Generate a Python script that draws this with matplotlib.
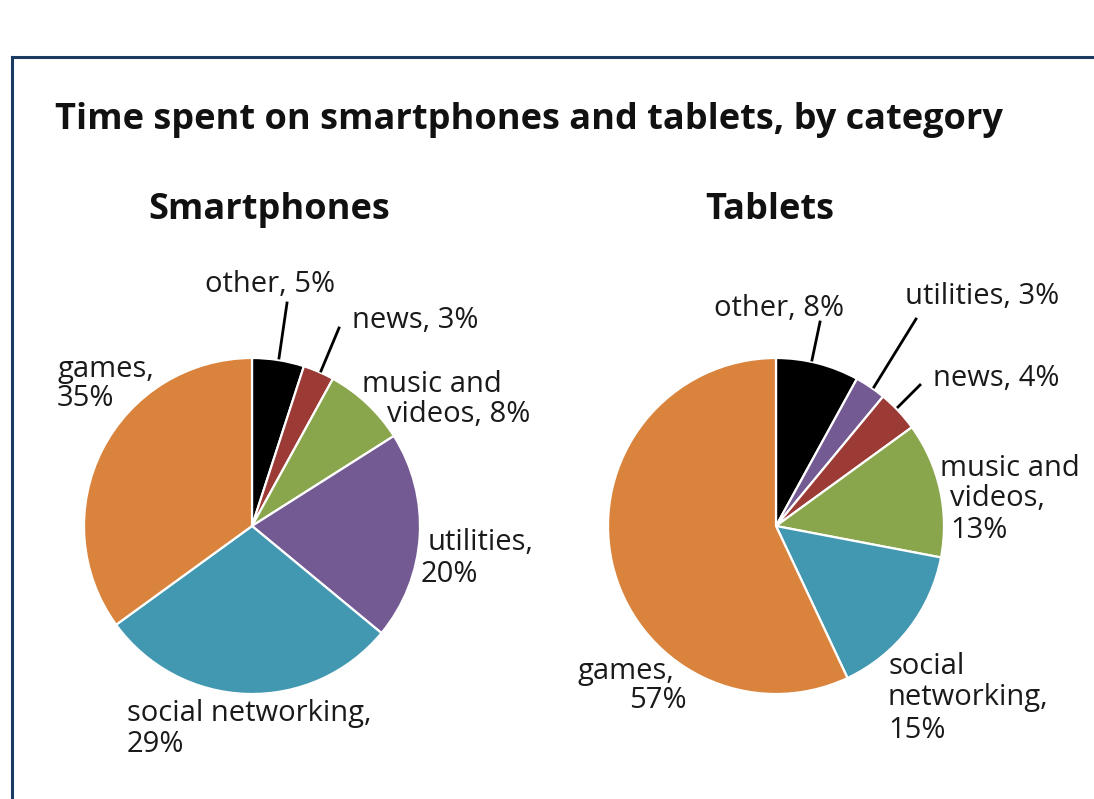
import matplotlib
matplotlib.use("Agg")
import matplotlib.pyplot as plt
from matplotlib.lines import Line2D

W, H = 1094, 799
FONT = "Open Sans"

title = "Time spent on smartphones and tablets, by category"

phone_title = "Smartphones"
phone_cats = ["other", "news", "music and videos", "utilities", "social networking", "games"]
phone_vals = [5, 3, 8, 20, 29, 35]
phone_colors = ["#000000", "#9C3A35", "#8AA64C", "#735A93", "#4398B1", "#D9833C"]

tab_title = "Tablets"
tab_cats = ["other", "utilities", "news", "music and videos", "social networking", "games"]
tab_vals = [8, 3, 4, 13, 15, 57]
tab_colors = ["#000000", "#735A93", "#9C3A35", "#8AA64C", "#4398B1", "#D9833C"]

# label line breaks as printed (one list of lines per category)
phone_label_lines = [["other, 5%"], ["news, 3%"], ["music and", "videos, 8%"],
                     ["utilities,", "20%"], ["social networking,", "29%"], ["games,", "35%"]]
tab_label_lines = [["other, 8%"], ["utilities, 3%"], ["news, 4%"],
                   ["music and", "videos,", "13%"], ["social", "networking,", "15%"],
                   ["games,", "57%"]]

# layout (pixel positions of each label line's left edge / vertical centre)
phone_label_pos = [[(205, 281)], [(352, 318)], [(362, 381), (387, 412)],
                   [(428, 540), (421, 571)], [(127, 710), (127, 742)], [(57, 366), (57, 396)]]
tab_label_pos = [[(714, 305)], [(905, 294)], [(933, 376)],
                 [(940, 465), (950, 496), (950, 528)], [(888, 663), (888, 694), (888, 727)],
                 [(578, 668), (629, 698)]]
phone_leaders = [((287, 303), (279, 358)), ((339, 328), (321, 371))]
tab_leaders = [((820, 322), (812, 360)), ((916, 319), (874, 387)), ((920, 385), (898, 407))]

fig = plt.figure(figsize=(W / 100, H / 100), dpi=100)
fig.patch.set_facecolor("white")

def fx(x):
    return x / W

def fy(y):
    return 1 - y / H

TEXT_DY = 3  # small vertical nudge for text baseline

# border box
navy = "#1C3B63"
fig.add_artist(Line2D([fx(12), fx(W + 5)], [fy(57), fy(57)], color=navy, lw=2.2))
fig.add_artist(Line2D([fx(12), fx(12)], [fy(57), fy(H + 5)], color=navy, lw=2.2))

fig.text(fx(55), fy(117 + TEXT_DY), title, fontsize=26, fontweight="bold", family=FONT,
         color="#111111", va="center", ha="left")
fig.text(fx(269), fy(207 + TEXT_DY), phone_title, fontsize=26, fontweight="bold", family=FONT,
         color="#111111", va="center", ha="center")
fig.text(fx(770), fy(207 + TEXT_DY), tab_title, fontsize=26, fontweight="bold", family=FONT,
         color="#111111", va="center", ha="center")

def draw_pie(cx, cy, r, vals, colors):
    ax = fig.add_axes([fx(cx - r), fy(cy + r), 2 * r / W, 2 * r / H])
    ax.pie(vals, colors=colors, startangle=90, counterclock=False, radius=1,
           wedgeprops=dict(edgecolor="white", linewidth=1.6))
    ax.set_xlim(-1, 1)
    ax.set_ylim(-1, 1)
    ax.axis("off")
    return ax

draw_pie(252, 526, 168, phone_vals, phone_colors)
draw_pie(776, 526, 168, tab_vals, tab_colors)

def draw_labels(lines_list, pos_list):
    for lines, poss in zip(lines_list, pos_list):
        for line, (x, y) in zip(lines, poss):
            fig.text(fx(x), fy(y + TEXT_DY), line, fontsize=21, family=FONT, color="#1a1a1a",
                     ha="left", va="center")

draw_labels(phone_label_lines, phone_label_pos)
draw_labels(tab_label_lines, tab_label_pos)

for (p0, p1) in phone_leaders + tab_leaders:
    fig.add_artist(Line2D([fx(p0[0]), fx(p1[0])], [fy(p0[1]), fy(p1[1])],
                          color="black", lw=2.0))

fig.savefig("out.png", dpi=100, facecolor="white")
